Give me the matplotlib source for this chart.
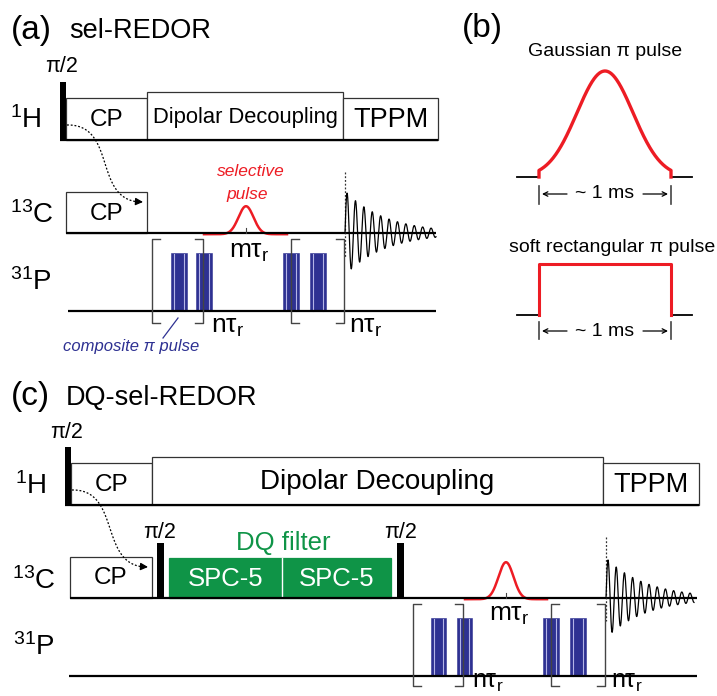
import numpy as np
import matplotlib.pyplot as plt
from matplotlib.patches import Rectangle

plt.rcParams['font.family'] = ['Liberation Sans', 'DejaVu Sans']
plt.rcParams['mathtext.fontset'] = 'custom'
plt.rcParams['mathtext.rm'] = 'Liberation Sans'
plt.rcParams['mathtext.it'] = 'Liberation Sans:italic'

# text content of the figure
panel_tags = ["(a)", "(b)", "(c)"]
sequence_names = ["sel-REDOR", "DQ-sel-REDOR"]
nuclei_mass = ["1", "13", "31"]
nuclei_symbol = ["H", "C", "P"]
proton_blocks = ["CP", "Dipolar Decoupling", "TPPM"]
carbon_block = "CP"
dq_blocks = ["SPC-5", "SPC-5"]
dq_name = "DQ filter"
hard_pulse = "π/2"
shape_names = ["Gaussian π pulse", "soft rectangular π pulse"]
shape_length = "~ 1 ms"
selective_name = ["selective", "pulse"]
composite_name = "composite π pulse"
mix_delay = "mτ$_\\mathregular{r}$"
redor_delay = "nτ$_\\mathregular{r}$"

BLUE = '#2e3192'
RED = '#ed1c24'
GREEN = '#0f9447'
LINE = '#333333'

fig = plt.figure(figsize=(7.17, 6.96), dpi=100)
ax = fig.add_axes([0, 0, 1, 1])
ax.set_xlim(0, 717)
ax.set_ylim(696, 0)
ax.axis('off')


def txt(x, y, s, size, **kw):
    kw.setdefault('ha', 'center')
    kw.setdefault('va', 'center')
    ax.text(x, y, s, fontsize=size, **kw)


def box(x0, x1, top, base, label, size, face='white', edge=LINE, color='black'):
    ax.add_patch(Rectangle((x0, top), x1 - x0, base - top, fc=face, ec=edge, lw=0.9, zorder=2))
    txt((x0 + x1) / 2, (top + base) / 2 + 1, label, size, color=color, zorder=3)


def bar(x0, x1, top, base):
    ax.add_patch(Rectangle((x0, top), x1 - x0, base - top, fc='black', ec='black', lw=0, zorder=4))


def baseline(x0, x1, y):
    ax.plot([x0, x1], [y, y], color='black', lw=1.6, zorder=5, solid_capstyle='butt')


def nucleus(x, y, i):
    txt(x, y, "$^\\mathregular{%s}$%s" % (nuclei_mass[i], nuclei_symbol[i]), 20, ha='left')


def composite(x0, x1, top, base):
    ax.add_patch(Rectangle((x0, top), x1 - x0, base - top, fc=BLUE, ec=BLUE, lw=0.4, zorder=3))
    w = x1 - x0
    for f in (0.17, 0.8):
        ax.plot([x0 + f * w] * 2, [top + 0.5, base], color='#b4b4e6', lw=0.8, zorder=4)


def bracket(xl, xr, top, bot, hook=8):
    ax.plot([xl + hook, xl, xl, xl + hook], [top, top, bot, bot], color='#444444', lw=1, zorder=6)
    ax.plot([xr - hook, xr, xr, xr - hook], [top, top, bot, bot], color='#444444', lw=1, zorder=6)


def gauss(xc, base, height, sigma, xl, xr):
    x = np.linspace(xl, xr, 200)
    y = base + 1.2 - height * np.exp(-(x - xc) ** 2 / (2 * sigma ** 2))
    ax.plot(x, y, color=RED, lw=1.8, zorder=4)
    ax.plot([xc, xc], [base - 5, base], color='#444444', lw=0.8, zorder=6)


def fid(x0, x1, base, amp, period, tau, top, bot):
    ax.plot([x0, x0], [top, bot], color='#333333', lw=0.9, ls=(0, (1.5, 1.5)), zorder=6)
    x = np.linspace(x0, x1, 800)
    t = x - x0
    y = base - amp * np.exp(-t / tau) * np.sin(2 * np.pi * t / period)
    ax.plot(x, y, color='black', lw=0.9, zorder=6)


def transfer(p0, p3, c1, c2):
    s = np.linspace(0, 1, 100)[:, None]
    pts = ((1 - s) ** 3 * np.array(p0) + 3 * (1 - s) ** 2 * s * np.array(c1)
           + 3 * (1 - s) * s ** 2 * np.array(c2) + s ** 3 * np.array(p3))
    ax.plot(pts[:-4, 0], pts[:-4, 1], color='black', lw=0.9, ls=(0, (1.5, 1.5)), zorder=6)
    ax.annotate("", xy=p3, xytext=tuple(pts[-6]),
                arrowprops=dict(arrowstyle='-|>', color='black', lw=0.9,
                                mutation_scale=11, shrinkA=0, shrinkB=0), zorder=6)


def length_marker(xl, xr, y, top, bot):
    for xx in (xl, xr):
        ax.plot([xx, xx], [top, bot], color='#444444', lw=1.2)
    xc = (xl + xr) / 2
    txt(xc, y, shape_length, 14)
    for tail, head in ((xl + 28, xl + 3), (xr - 28, xr - 3)):
        ax.annotate("", xy=(head, y), xytext=(tail, y),
                    arrowprops=dict(arrowstyle='->', color='black', lw=0.9,
                                    mutation_scale=8, shrinkA=0, shrinkB=0))


# ---------------- (a) sel-REDOR ----------------
txt(11, 30, panel_tags[0], 24, ha='left')
txt(69, 31, sequence_names[0], 19.5, ha='left')

nucleus(10, 120, 0)
nucleus(10, 215, 1)
nucleus(10, 282, 2)

txt(62, 66, hard_pulse, 15.5)
bar(60, 66, 82, 141)
box(66, 147, 98, 140, proton_blocks[0], 17.5)
box(147, 343, 92, 140, proton_blocks[1], 15.8)
box(343, 438, 98, 140, proton_blocks[2], 19.5)
baseline(60, 438, 140)

box(66, 147, 192, 233, carbon_block, 17.5)
gauss(246, 233, 28, 7.5, 204, 287)
txt(251, 172, selective_name[0], 12.5, color=RED, style='italic')
txt(247, 195, selective_name[1], 12.5, color=RED, style='italic')
txt(229, 252, mix_delay, 19, ha='left')
fid(345, 436, 233, 42, 8.4, 40, 172, 258)
baseline(66, 436, 233)

for x0, x1 in [(171, 187), (196, 212), (283, 299), (310, 326)]:
    composite(x0, x1, 253, 311)
bracket(152, 203, 239, 323)
bracket(291, 344, 239, 323)
txt(211, 327, redor_delay, 19, ha='left')
txt(349, 327, redor_delay, 19, ha='left')
baseline(68, 436, 311)
ax.plot([178, 163], [318, 338], color=BLUE, lw=0.9)
txt(131, 346, composite_name, 12, color=BLUE, style='italic')

transfer((67, 125), (143, 202), (118, 124), (92, 203))

# ---------------- (b) pulse shapes ----------------
txt(462, 28, panel_tags[1], 24, ha='left')
txt(605, 52, shape_names[0], 14)
xs = np.linspace(539, 671, 300)
ys = 177 - 106 * np.exp(-(xs - 605) ** 2 / (2 * 28 ** 2))
ax.plot(np.r_[539, xs, 671], np.r_[177, ys, 177], color=RED, lw=2.4, zorder=3)
ax.plot([517, 539], [177, 177], color='black', lw=1.3)
ax.plot([671, 692], [177, 177], color='black', lw=1.3)
length_marker(539, 671, 194, 186, 204)

txt(612, 248, shape_names[1], 14)
ax.plot([539, 539, 671, 671], [315, 264, 264, 315], color=RED, lw=2.2, zorder=3)
ax.plot([517, 539], [315, 315], color='black', lw=1.3)
ax.plot([671, 692], [315, 315], color='black', lw=1.3)
length_marker(539, 671, 331, 322, 339)

# ---------------- (c) DQ-sel-REDOR ----------------
txt(11, 397, panel_tags[2], 24, ha='left')
txt(66, 398, sequence_names[1], 19.5, ha='left')

nucleus(15, 486, 0)
nucleus(12, 581, 1)
nucleus(13, 647, 2)

txt(67, 433, hard_pulse, 15.5)
bar(65, 71, 447, 506)
box(71, 152, 463, 505, proton_blocks[0], 17.5)
box(152, 603, 457, 505, proton_blocks[1], 20)
box(603, 699, 463, 505, proton_blocks[2], 19.5)
baseline(65, 699, 505)

box(70, 152, 557, 598, carbon_block, 17.5)
txt(160, 533, hard_pulse, 15.5)
bar(157, 164, 543, 598)
txt(283, 543, dq_name, 18.5, color=GREEN)
box(169, 282, 558, 598, dq_blocks[0], 18.5, face=GREEN, edge=GREEN, color='white')
box(282, 391, 558, 598, dq_blocks[1], 18.5, face=GREEN, edge=GREEN, color='white')
ax.plot([282, 282], [558, 598], color='white', lw=1, zorder=3)
txt(401, 533, hard_pulse, 15.5)
bar(397, 404, 543, 598)
gauss(506, 598, 37, 7.5, 465, 547)
txt(489, 615, mix_delay, 19, ha='left')
fid(606, 694, 598, 40, 8.2, 40, 537, 621)
baseline(70, 697, 598)

for x0, x1 in [(431, 446), (457, 472), (543, 559), (570, 586)]:
    composite(x0, x1, 618, 676)
bracket(413, 463, 604, 686)
bracket(551, 605, 604, 686)
txt(472, 682, redor_delay, 18, ha='left')
txt(611, 682, redor_delay, 18, ha='left')
baseline(69, 697, 676)

transfer((72, 490), (148, 567), (122, 489), (98, 568))

fig.savefig('out.png', dpi=100)
